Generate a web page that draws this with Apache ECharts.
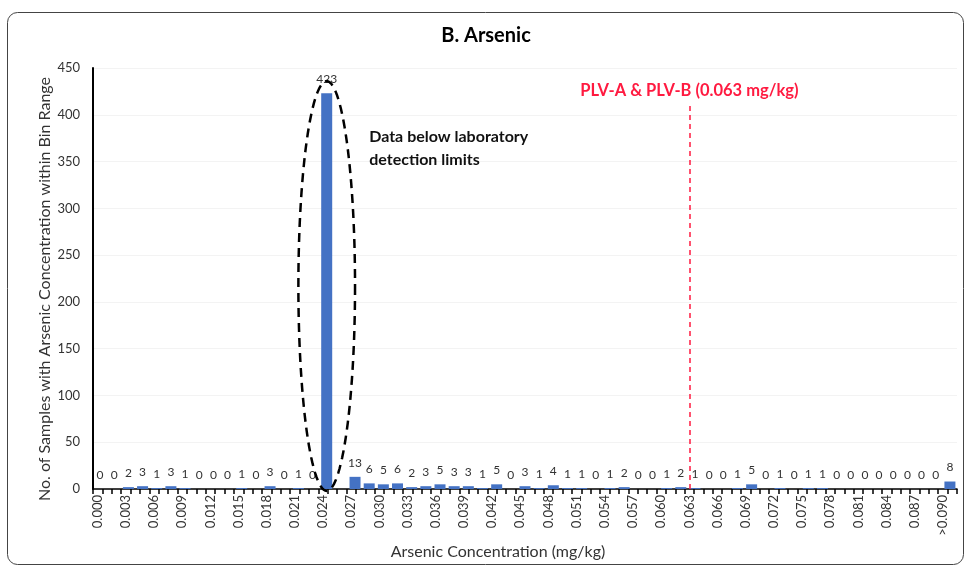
<!DOCTYPE html>
<html>
<head>
<meta charset="utf-8">
<script src="https://cdn.jsdelivr.net/npm/echarts@6/dist/echarts.min.js"></script>
<style>
html,body{margin:0;padding:0;background:#fff;}
#c{width:972px;height:574px;}
</style>
</head>
<body>
<div id="c"></div>
<script>
// Histogram bins (0.0015 mg/kg wide) and sample counts
var binLabels = ['0.0000','0.0015','0.0030','0.0045','0.0060','0.0075','0.0090','0.0105','0.0120','0.0135',
'0.0150','0.0165','0.0180','0.0195','0.0210','0.0225','0.0240','0.0255','0.0270','0.0285',
'0.0300','0.0315','0.0330','0.0345','0.0360','0.0375','0.0390','0.0405','0.0420','0.0435',
'0.0450','0.0465','0.0480','0.0495','0.0510','0.0525','0.0540','0.0555','0.0570','0.0585',
'0.0600','0.0615','0.0630','0.0645','0.0660','0.0675','0.0690','0.0705','0.0720','0.0735',
'0.0750','0.0765','0.0780','0.0795','0.0810','0.0825','0.0840','0.0855','0.0870','0.0885','>0.090'];
var counts = [0,0,2,3,1,3,1,0,0,0,1,0,3,0,1,0,
423,0,
13,6,5,6,2,3,5,3,3,1,5,0,3,1,4,1,1,0,1,2,0,0,1,2,
1,0,0,1,5,
0,1,0,1,1,0,0,0,0,0,0,0,0,8];
// Tick-label axis (0.001 steps)
var tickLabels = ['0.000','0.001','0.002','0.003','0.004','0.005','0.006','0.007','0.008','0.009',
'0.010','0.011','0.012','0.013','0.014','0.015','0.016','0.017','0.018','0.019',
'0.020','0.021','0.022','0.023','0.024','0.025','0.026','0.027','0.028','0.029',
'0.030','0.031','0.032','0.033','0.034','0.035','0.036','0.037','0.038','0.039',
'0.040','0.041','0.042','0.043','0.044','0.045','0.046','0.047','0.048','0.049',
'0.050','0.051','0.052','0.053','0.054','0.055','0.056','0.057','0.058','0.059',
'0.060','0.061','0.062','0.063','0.064','0.065','0.066','0.067','0.068','0.069',
'0.070','0.071','0.072','0.073','0.074','0.075','0.076','0.077','0.078','0.079',
'0.080','0.081','0.082','0.083','0.084','0.085','0.086','0.087','0.088','0.089','>0.090',''];
var yTicks = [0,50,100,150,200,250,300,350,400,450];
var plvValue = '0.063';
var plvText = 'PLV-A & PLV-B (0.063 mg/kg)';
var noteText = 'Data below laboratory\ndetection limits';
var yName = 'No. of Samples with Arsenic Concentration within Bin Range';
var highlightBin = 16;
var hiddenLabelBin = 17; // label covered by the ellipse in the original

var FONT = 'Lato, "Open Sans", sans-serif';
var chart = echarts.init(document.getElementById('c'), null, {renderer:'canvas'});
var option = {
  animation: false,
  backgroundColor: '#fff',
  title: {text:'B. Arsenic', left:'center', top:21, textStyle:{fontFamily:FONT, fontSize:20, fontWeight:'bold', color:'#000'}},
  grid: {left:93, right:15, top:68, bottom:85},
  xAxis: [
    {type:'category', data:binLabels, position:'bottom', axisLine:{show:false}, axisTick:{show:false}, axisLabel:{show:false}},
    {type:'category', data:tickLabels, position:'bottom',
      axisLine:{show:true, lineStyle:{color:'#000', width:1.5}},
      axisTick:{show:true, interval:0, length:5, lineStyle:{color:'#000', width:1.5}},
      axisLabel:{interval:2, rotate:90, fontSize:13, color:'#333', fontFamily:FONT, margin:6},
      name:'Arsenic Concentration (mg/kg)', nameLocation:'middle', nameGap:55,
      nameTextStyle:{fontFamily:FONT, fontSize:16, color:'#333', padding:[0,54,0,0]}}
  ],
  yAxis: {type:'value', min:yTicks[0], max:yTicks[yTicks.length-1], interval:50,
    axisLine:{show:true, lineStyle:{color:'#000', width:2}}, axisTick:{show:false},
    axisLabel:{fontSize:13, color:'#333', fontFamily:FONT, margin:13},
    splitLine:{show:true, lineStyle:{color:'#f3f3f3'}}},
  series: [
    {type:'bar', xAxisIndex:0, data:counts, barWidth:11,
      itemStyle:{color:'#4472C4'},
      label:{show:true, position:'top', distance:8, fontSize:12, color:'#333', fontFamily:FONT,
        formatter:function(p){ return p.dataIndex === hiddenLabelBin ? '' : String(p.value); }}},
    {type:'line', xAxisIndex:1, data:[], symbol:'none',
      markLine:{silent:true, symbol:'none',
        lineStyle:{color:'#ff1a40', type:[5,4], width:1.5},
        label:{show:true, position:'end', formatter:plvText, color:'#ff1a40', fontWeight:'bold', fontSize:16.5, fontFamily:FONT, distance:6},
        data:[[{coord:[tickLabels.indexOf(plvValue), 0]},{coord:[tickLabels.indexOf(plvValue), 410]}]]}}
  ]
};
chart.setOption(option);

// Annotation ellipse around the highlighted bin, placed through the chart's scales
var cPt = chart.convertToPixel({xAxisIndex:0, yAxisIndex:0}, [highlightBin, 217]);
var topPt = chart.convertToPixel({xAxisIndex:0, yAxisIndex:0}, [highlightBin, 436]);
var sidePt = chart.convertToPixel({xAxisIndex:0, yAxisIndex:0}, [highlightBin + 1.9, 217]);
var rx = sidePt[0] - cPt[0], ry = cPt[1] - topPt[1];
var pts = [];
for (var i = 0; i <= 120; i++) {
  var a = i / 120 * Math.PI * 2;
  pts.push([cPt[0] + rx * Math.cos(a), cPt[1] + ry * Math.sin(a)]);
}
var notePt = chart.convertToPixel({xAxisIndex:0, yAxisIndex:0}, [highlightBin + 2.85, 364]);
var W = chart.getWidth(), H = chart.getHeight();
chart.setOption({
  graphic: [
    {type:'rect', shape:{x:7.5, y:12.5, width:W-16, height:H-22, r:10}, style:{fill:'none', stroke:'#444', lineWidth:1}, z:0, silent:true},
    {type:'polyline', shape:{points:pts}, style:{fill:'none', stroke:'#000', lineWidth:2.5, lineDash:[9,6]}, z:100, silent:true},
    {type:'text', x:notePt[0], y:notePt[1], style:{text:noteText, fontFamily:FONT, fontSize:16, fontWeight:'bold', fill:'#111', lineHeight:23, textVerticalAlign:'middle'}, z:100},
    {type:'text', x:45, y:289, rotation:Math.PI/2, style:{text:yName, fontFamily:FONT, fontSize:16, fill:'#333', textAlign:'center', textVerticalAlign:'middle'}, z:100}
  ]
});
</script>
</body>
</html>
